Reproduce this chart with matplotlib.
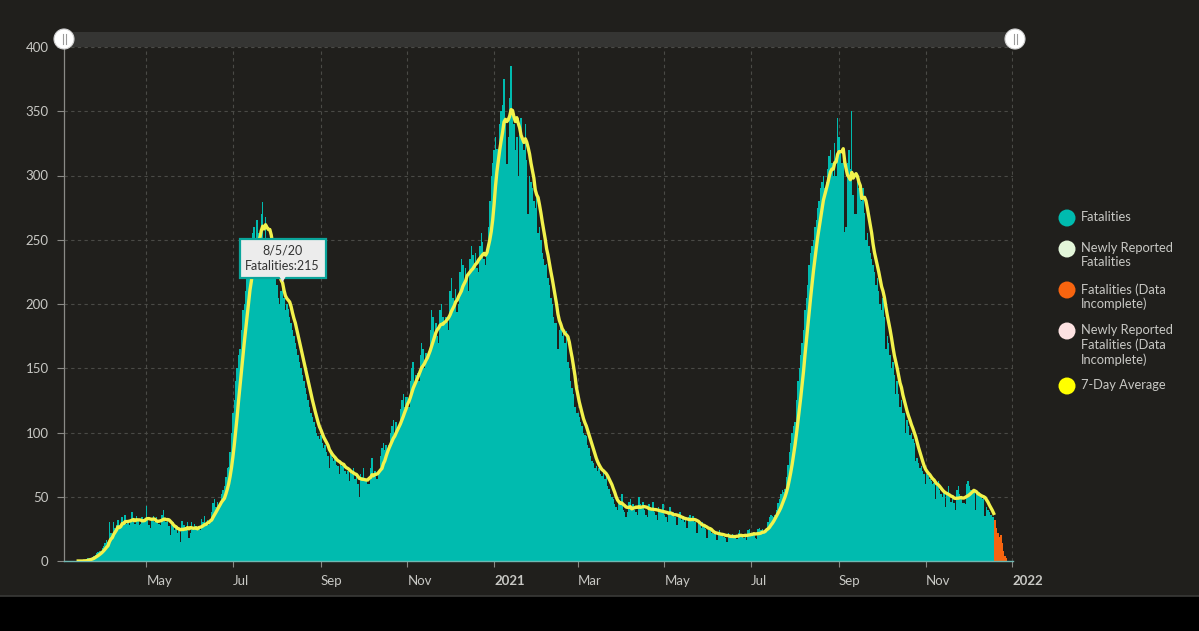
import numpy as np
import pandas as pd
import matplotlib as mpl
import matplotlib.pyplot as plt
import matplotlib.dates as mdates
from matplotlib.patches import Rectangle, Ellipse, Polygon
from matplotlib.lines import Line2D

mpl.rcParams["font.family"] = ["Lato", "DejaVu Sans"]

BG = "#201f1c"
TEAL = "#00bbaf"
YELLOW = "#f2f24c"
ORANGE = "#f7640f"
GRID = "#4a4a46"
TXT = "#c8c8c4"

# daily fatalities, one row per week, first day 2020-03-09 (Monday)
fatalities_weeks = [
    [0, 0, 0, 0, 0, 0, 0],
    [0, 0, 1, 0, 1, 2, 2],
    [2, 3, 4, 5, 6, 7, 8],
    [8, 10, 12, 14, 16, 15, 30],
    [22, 18, 30, 26, 28, 32, 26],
    [28, 34, 30, 36, 29, 32, 28],
    [30, 38, 33, 29, 35, 31, 28],
    [29, 34, 33, 31, 43, 33, 28],
    [26, 33, 35, 30, 34, 30, 29],
    [28, 36, 40, 32, 30, 31, 27],
    [20, 28, 30, 24, 26, 22, 25],
    [15, 31, 28, 28, 25, 30, 18],
    [22, 30, 25, 29, 27, 24, 25],
    [24, 33, 30, 35, 28, 32, 28],
    [32, 38, 45, 48, 42, 46, 43],
    [45, 52, 55, 58, 65, 72, 73],
    [85, 100, 115, 125, 140, 150, 160],
    [165, 180, 195, 200, 210, 220, 230],
    [240, 230, 255, 260, 245, 265, 255],
    [250, 270, 279, 245, 268, 250, 244],
    [250, 240, 230, 245, 225, 215, 205],
    [200, 210, 215, 205, 195, 200, 196],
    [190, 185, 180, 175, 170, 165, 160],
    [155, 150, 145, 140, 135, 130, 125],
    [120, 115, 112, 108, 104, 100, 97],
    [95, 98, 92, 88, 90, 85, 82],
    [72, 85, 80, 78, 82, 75, 74],
    [68, 78, 74, 76, 70, 68, 70],
    [62, 70, 68, 72, 64, 66, 60],
    [50, 68, 65, 72, 62, 64, 60],
    [60, 72, 80, 66, 70, 64, 64],
    [70, 82, 88, 92, 86, 90, 87],
    [90, 100, 105, 110, 98, 108, 103],
    [105, 118, 125, 130, 120, 128, 128],
    [120, 140, 150, 155, 138, 145, 146],
    [140, 160, 170, 165, 150, 162, 159],
    [160, 180, 195, 190, 175, 185, 175],
    [170, 195, 200, 190, 185, 190, 186],
    [180, 210, 220, 205, 200, 212, 194],
    [200, 225, 235, 230, 215, 228, 221],
    [210, 235, 245, 238, 228, 240, 228],
    [225, 245, 255, 248, 235, 230, 242],
    [260, 280, 300, 310, 320, 330, 321],
    [320, 340, 350, 355, 375, 345, 309],
    [330, 360, 385, 350, 340, 320, 330],
    [300, 335, 345, 330, 320, 340, 312],
    [270, 300, 295, 290, 280, 275, 285],
    [255, 260, 250, 240, 235, 230, 231],
    [220, 215, 205, 200, 190, 185, 185],
    [165, 180, 185, 175, 178, 170, 179],
    [155, 150, 140, 135, 130, 120, 115],
    [115, 112, 108, 105, 100, 98, 97],
    [90, 88, 82, 78, 76, 72, 74],
    [70, 72, 68, 66, 70, 64, 66],
    [58, 56, 52, 50, 48, 44, 42],
    [40, 46, 44, 52, 40, 38, 34],
    [38, 46, 48, 40, 44, 40, 38],
    [36, 50, 44, 42, 46, 40, 36],
    [34, 44, 42, 40, 46, 38, 36],
    [32, 42, 40, 38, 44, 36, 34],
    [30, 38, 42, 36, 38, 34, 34],
    [28, 36, 38, 32, 35, 30, 32],
    [26, 34, 36, 33, 35, 30, 30],
    [22, 30, 28, 26, 30, 28, 25],
    [18, 24, 26, 22, 22, 21, 21],
    [16, 22, 24, 20, 21, 19, 18],
    [15, 22, 20, 19, 21, 18, 18],
    [17, 22, 24, 20, 19, 18, 20],
    [16, 24, 25, 22, 20, 22, 18],
    [17, 25, 26, 24, 25, 22, 22],
    [26, 30, 34, 36, 35, 34, 36],
    [40, 45, 48, 52, 55, 54, 56],
    [65, 75, 85, 92, 100, 105, 108],
    [125, 140, 150, 160, 170, 180, 195],
    [205, 215, 230, 240, 245, 250, 260],
    [265, 275, 280, 290, 295, 300, 290],
    [295, 305, 315, 320, 310, 300, 325],
    [300, 345, 330, 320, 310, 316, 256],
    [260, 310, 320, 305, 350, 285, 270],
    [270, 295, 290, 285, 280, 290, 271],
    [250, 255, 245, 240, 235, 230, 225],
    [215, 220, 210, 200, 195, 205, 190],
    [165, 175, 170, 160, 150, 155, 145],
    [130, 140, 130, 120, 125, 115, 115],
    [100, 110, 105, 98, 100, 95, 92],
    [78, 80, 76, 72, 74, 70, 68],
    [60, 68, 66, 64, 62, 60, 61],
    [48, 58, 62, 55, 52, 50, 53],
    [42, 54, 58, 50, 46, 48, 45],
    [40, 55, 58, 52, 48, 45, 45],
    [44, 60, 62, 58, 55, 52, 54],
    [40, 55, 52, 54, 50, 48, 51],
    [35, 42, 40, 38, 36, 34, 34],
]
# data incomplete, from 2021-12-20
incomplete = [32, 26, 22, 19, 20, 14, 8, 4, 2]

legend_labels = ["Fatalities", "Newly Reported\nFatalities", "Fatalities (Data\nIncomplete)",
                 "Newly Reported\nFatalities (Data\nIncomplete)", "7-Day Average"]
legend_colors = [TEAL, "#e3f6d9", ORANGE, "#fde2e2", "#ffff00"]

start = pd.Timestamp("2020-03-09")
daily = pd.Series(np.concatenate(fatalities_weeks),
                  index=pd.date_range(start, periods=7 * len(fatalities_weeks)))
inc = pd.Series(incomplete, index=pd.date_range(daily.index[-1] + pd.Timedelta(days=1),
                                                periods=len(incomplete)))
avg7 = daily.rolling(7, min_periods=1).mean()

W, H = 1199, 631
fig = plt.figure(figsize=(W / 100, H / 100), dpi=100, facecolor=BG)


def fx(px):
    return px / W


def fy(py):
    return 1 - py / H


ax = fig.add_axes([fx(64), fy(561), fx(1013 - 64), (561 - 47) / H])
ax.set_facecolor(BG)

ax.bar(daily.index, daily.values, width=1.0, color=TEAL, linewidth=0, antialiased=False, zorder=2)
ax.bar(inc.index, inc.values, width=1.0, color=ORANGE, linewidth=0, antialiased=False, zorder=2)
ax.plot(avg7.index[5:], avg7.values[5:], color=YELLOW, lw=2.4, zorder=3, solid_joinstyle="round")

ax.set_ylim(0, 400)
ax.set_xlim(pd.Timestamp("2020-03-04"), pd.Timestamp("2022-01-01 14:00"))
ax.set_yticks(np.arange(0, 401, 50))
xt = pd.to_datetime(["2020-05-01", "2020-07-01", "2020-09-01", "2020-11-01", "2021-01-01",
                     "2021-03-01", "2021-05-01", "2021-07-01", "2021-09-01", "2021-11-01",
                     "2022-01-01"])
ax.set_xticks(xt)
ax.set_xticklabels(["May", "Jul", "Sep", "Nov", "2021", "Mar", "May", "Jul", "Sep", "Nov", "2022"])
for lab in ax.get_xticklabels():
    lab.set_ha("left")
    if lab.get_text().startswith("20"):
        lab.set_fontweight("bold")
        lab.set_color("#e8e8e4")

ax.grid(True, color=GRID, ls=(0, (3, 3)), lw=0.8, zorder=0)
ax.tick_params(axis="both", colors="#8a8a86", labelcolor=TXT, labelsize=9.5, length=5, width=0.8)
ax.tick_params(axis="x", pad=6, length=4)
ax.tick_params(axis="y", pad=6)
for s in ["top", "right"]:
    ax.spines[s].set_visible(False)
ax.spines["left"].set_color("#8a8a86")
ax.spines["bottom"].set_color("#6fb8b2")
ax.spines["left"].set_linewidth(0.9)
ax.spines["bottom"].set_linewidth(1.0)

# tooltip
tip = pd.Timestamp("2020-08-05")
tipx = mdates.date2num(tip)
ax.text(tip, 235.5, "8/5/20\nFatalities:215", ha="center", va="center", fontsize=9,
        color="#333333", linespacing=1.3, zorder=6,
        bbox=dict(boxstyle="square,pad=0.45", fc="#ececec", ec="#0aa59b", lw=1.6))
ax.add_patch(Polygon([(tipx - 2.5, 221.8), (tipx + 2.5, 221.8), (tipx, 217)],
                     closed=True, fc="#ececec", ec="none", zorder=7))

# range slider on top
fig.add_artist(Rectangle((fx(64), fy(47)), fx(1015 - 64), 15 / H, transform=fig.transFigure,
                         fc="#353533", ec="none", zorder=5))
for cx in [64, 1015]:
    fig.add_artist(Ellipse((fx(cx), fy(39)), 20 / W, 20 / H, transform=fig.transFigure,
                           fc="white", ec="#d0d0d0", lw=0.8, zorder=6))
    for dx in [-1.5, 1.5]:
        fig.add_artist(Line2D([fx(cx + dx), fx(cx + dx)], [fy(34), fy(44)],
                              transform=fig.transFigure, color="#9a9a9a", lw=0.8, zorder=7))

# legend
legend_y = [218, 249, 290, 331, 386]
for lab, col, ly in zip(legend_labels, legend_colors, legend_y):
    fig.add_artist(Ellipse((fx(1067), fy(ly)), 17 / W, 17 / H, transform=fig.transFigure,
                           fc=col, ec="none", zorder=5))
    fig.text(fx(1081), fy(ly - 7), lab, ha="left", va="top", fontsize=9.3, color=TXT,
             linespacing=1.22)

# bottom black strip
fig.add_artist(Rectangle((0, 0), 1, 35 / H, transform=fig.transFigure, fc="black", ec="none"))
fig.add_artist(Line2D([0, 1], [35 / H, 35 / H], transform=fig.transFigure, color="#3a3a38", lw=1.2))

fig.savefig("out.png", dpi=100, facecolor=BG)
